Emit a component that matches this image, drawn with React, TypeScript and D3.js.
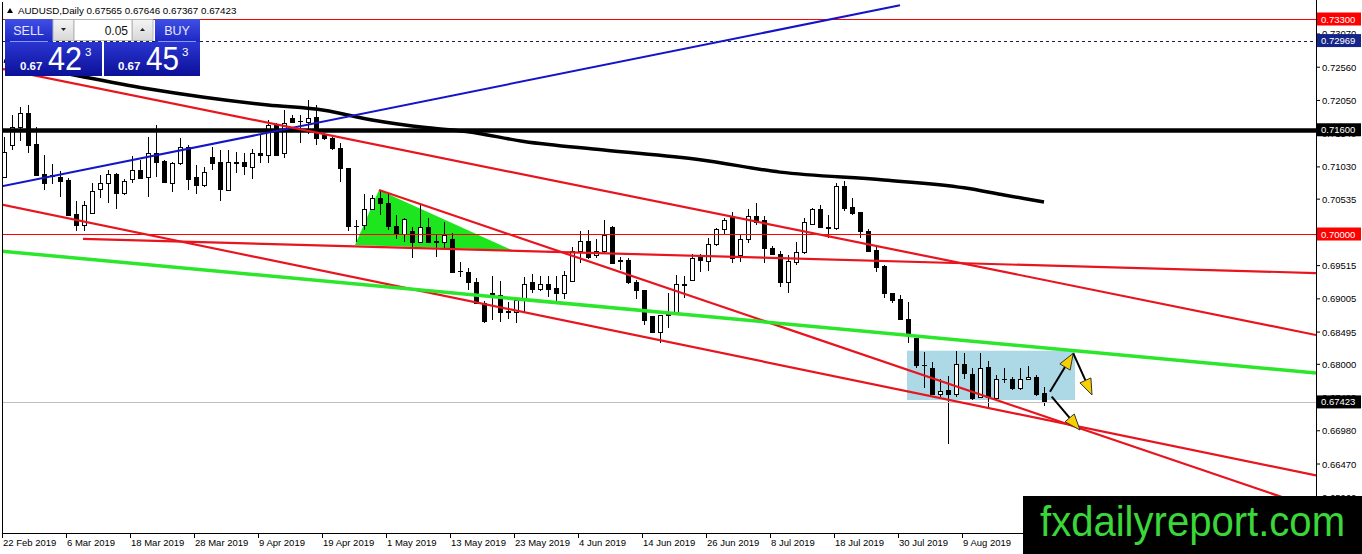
import * as d3 from 'd3'

const W = 1362
const H = 554
const LEFT = 2
const RIGHT = 1316
const TOP = 2
const BOTTOM = 533
const FONT = '"Liberation Sans", Arial, sans-serif'

// AUDUSD daily candles, 22 Feb 2019 .. 23 Aug 2019
const opens = [
  0.7088, 0.7137, 0.7165, 0.7185, 0.7138, 0.7092, 0.709, 0.7088, 0.7083, 0.703,
  0.7014, 0.7033, 0.7069, 0.7079, 0.7092, 0.7063, 0.7084, 0.7099, 0.7087, 0.7125,
  0.7112, 0.7079, 0.7109, 0.7134, 0.7087, 0.7075, 0.7118, 0.711, 0.7068, 0.7109,
  0.711, 0.7103, 0.7125, 0.7122, 0.7167, 0.7124, 0.7178, 0.7173, 0.7172, 0.718,
  0.7152, 0.7147, 0.7132, 0.7101, 0.7013, 0.7014, 0.7039, 0.7055, 0.7047, 0.7013,
  0.7, 0.7004, 0.6988, 0.701, 0.6989, 0.6988, 0.6992, 0.6943, 0.6942, 0.6926,
  0.6894, 0.691, 0.6906, 0.6882, 0.6881, 0.6899, 0.6926, 0.6916, 0.6923, 0.6917,
  0.691, 0.6928, 0.6974, 0.6989, 0.6968, 0.6974, 0.701, 0.696, 0.696, 0.6927,
  0.6914, 0.6874, 0.685, 0.6875, 0.6878, 0.6922, 0.6929, 0.6964, 0.6958, 0.6984,
  0.7008, 0.7028, 0.6968, 0.6993, 0.7027, 0.7021, 0.6979, 0.697, 0.6926, 0.6957,
  0.6972, 0.7015, 0.7038, 0.7011, 0.7009, 0.7074, 0.7041, 0.7034, 0.7005, 0.6975,
  0.6951, 0.691, 0.69, 0.687, 0.684, 0.6799, 0.6794, 0.6755, 0.676, 0.6755,
  0.68, 0.6785, 0.675, 0.6796, 0.6748, 0.6777, 0.6777, 0.6763, 0.6777, 0.678,
  0.67565,
]
const highs = [
  0.7149, 0.7183, 0.7195, 0.7198, 0.7165, 0.7121, 0.7107, 0.7096, 0.7086, 0.705,
  0.705, 0.7078, 0.7091, 0.7098, 0.7093, 0.7085, 0.7119, 0.7114, 0.7149, 0.7167,
  0.7114, 0.7111, 0.7147, 0.7137, 0.7106, 0.7103, 0.7134, 0.7129, 0.7129, 0.7126,
  0.7124, 0.7131, 0.7152, 0.7175, 0.717, 0.719, 0.7183, 0.7183, 0.7206, 0.7198,
  0.7155, 0.7149, 0.7139, 0.7101, 0.7021, 0.7061, 0.706, 0.7068, 0.7061, 0.7029,
  0.7024, 0.7011, 0.7046, 0.7025, 0.6998, 0.7018, 0.7001, 0.6957, 0.6948, 0.6933,
  0.6897, 0.6936, 0.6928, 0.6896, 0.6899, 0.6934, 0.6938, 0.6936, 0.6936, 0.6936,
  0.6943, 0.698, 0.7005, 0.7006, 0.6993, 0.7021, 0.7012, 0.6965, 0.6963, 0.6929,
  0.6914, 0.6874, 0.6876, 0.6909, 0.6937, 0.6936, 0.6969, 0.697, 0.6994, 0.7009,
  0.7024, 0.7034, 0.6998, 0.7039, 0.7047, 0.7027, 0.6982, 0.6974, 0.6968, 0.6988,
  0.7025, 0.704, 0.7045, 0.7029, 0.7078, 0.7081, 0.7056, 0.7034, 0.7008, 0.6983,
  0.6952, 0.691, 0.6907, 0.6895, 0.684, 0.6819, 0.6804, 0.6778, 0.6782, 0.6821,
  0.6817, 0.6795, 0.6817, 0.6805, 0.6783, 0.6795, 0.678, 0.6795, 0.6797, 0.6783,
  0.67646,
]
const lows = [
  0.7087, 0.7129, 0.7142, 0.7124, 0.7089, 0.7067, 0.7076, 0.7057, 0.7029, 0.7004,
  0.7004, 0.7032, 0.7055, 0.7047, 0.7039, 0.706, 0.7078, 0.7085, 0.7057, 0.7088,
  0.7078, 0.7065, 0.7106, 0.7068, 0.7062, 0.7072, 0.7098, 0.7051, 0.7068, 0.7093,
  0.7091, 0.7085, 0.7109, 0.7109, 0.7121, 0.7116, 0.717, 0.7139, 0.7153, 0.7137,
  0.7144, 0.7129, 0.708, 0.7005, 0.6988, 0.7006, 0.7037, 0.7029, 0.7006, 0.6993,
  0.6988, 0.6963, 0.6986, 0.6986, 0.6964, 0.6978, 0.694, 0.6934, 0.6914, 0.6892,
  0.6863, 0.6868, 0.6865, 0.687, 0.6864, 0.6881, 0.691, 0.6913, 0.6904, 0.6896,
  0.6901, 0.6927, 0.6955, 0.6961, 0.6963, 0.697, 0.6954, 0.6945, 0.6923, 0.6901,
  0.686, 0.6849, 0.6833, 0.6855, 0.6878, 0.6902, 0.6929, 0.6942, 0.6943, 0.6982,
  0.6998, 0.6955, 0.6957, 0.6986, 0.7014, 0.6956, 0.6968, 0.6919, 0.691, 0.6953,
  0.697, 0.7014, 0.7009, 0.6994, 0.7006, 0.7035, 0.7029, 0.6994, 0.6972, 0.6941,
  0.6902, 0.6894, 0.6868, 0.6832, 0.6794, 0.6763, 0.6753, 0.675, 0.6677, 0.675,
  0.6777, 0.6745, 0.6748, 0.6735, 0.6745, 0.6771, 0.676, 0.6761, 0.6776, 0.6751,
  0.67367,
]
const closes = [
  0.7126, 0.7165, 0.7185, 0.7137, 0.7091, 0.7079, 0.7089, 0.7082, 0.7029, 0.7014,
  0.7044, 0.7066, 0.7079, 0.7092, 0.7063, 0.7082, 0.7099, 0.7086, 0.7125, 0.7111,
  0.708, 0.7109, 0.7134, 0.7085, 0.7075, 0.7095, 0.7109, 0.7069, 0.711, 0.711,
  0.7105, 0.7125, 0.7121, 0.7167, 0.7122, 0.717, 0.7172, 0.7173, 0.7178, 0.7148,
  0.7148, 0.7132, 0.7101, 0.7013, 0.7012, 0.7039, 0.7055, 0.7047, 0.7013, 0.7,
  0.7023, 0.6988, 0.701, 0.6988, 0.6988, 0.6999, 0.6942, 0.6943, 0.6926, 0.6894,
  0.6867, 0.6904, 0.6881, 0.688, 0.6899, 0.6924, 0.6916, 0.6923, 0.6916, 0.691,
  0.6937, 0.6974, 0.6989, 0.6965, 0.6974, 0.6998, 0.6956, 0.6959, 0.6926, 0.6914,
  0.6868, 0.685, 0.6876, 0.6877, 0.6923, 0.6924, 0.6963, 0.696, 0.6984, 0.7008,
  0.7021, 0.6963, 0.6992, 0.7027, 0.7019, 0.6979, 0.6969, 0.6926, 0.6959, 0.6972,
  0.7018, 0.7038, 0.701, 0.7009, 0.7074, 0.704, 0.7033, 0.7005, 0.6974, 0.695,
  0.691, 0.6899, 0.687, 0.6845, 0.6799, 0.6799, 0.6755, 0.6759, 0.6755, 0.68,
  0.6786, 0.6748, 0.6795, 0.675, 0.6777, 0.6777, 0.6763, 0.6777, 0.678, 0.6755,
  0.67423,
]

// time axis labels, every 8 bars
const dateBars = [0, 8, 16, 24, 32, 40, 48, 56, 64, 72, 80, 88, 96, 104, 112, 120]
const dateLabels = [
  '22 Feb 2019', '6 Mar 2019', '18 Mar 2019', '28 Mar 2019', '9 Apr 2019', '19 Apr 2019',
  '1 May 2019', '13 May 2019', '23 May 2019', '4 Jun 2019', '14 Jun 2019', '26 Jun 2019',
  '8 Jul 2019', '18 Jul 2019', '30 Jul 2019', '9 Aug 2019',
]

// price axis
const priceTicks = [
  0.7307, 0.7256, 0.7205, 0.7154, 0.7103, 0.70535, 0.70025, 0.69515, 0.69005, 0.68495,
  0.68, 0.6749, 0.6698, 0.6647, 0.6596,
]

// moving average (read at a few bars)
const maBars = [0, 5, 10, 18, 25, 33, 40, 46, 53, 58, 65, 75, 87, 97, 110, 120, 125, 130]
const maValues = [
  0.72655, 0.72533, 0.7241, 0.7223, 0.721, 0.7198, 0.719, 0.7175, 0.7163, 0.7157, 0.7142,
  0.7129, 0.7114, 0.7095, 0.7083, 0.7071, 0.706, 0.7049,
]

// horizontal levels
const levelPrices = [0.733, 0.72969, 0.716, 0.7, 0.67423]
const levelColors = ['#FF0000', '#1A1A50', '#000000', '#FF0000', '#C0C0C0']
const levelWidths = [1, 1, 4.5, 1, 1]
const levelBoxes = ['#FF0000', '#142488', '#000000', '#FF0000', '#000000']

// trend lines: [bar0, price0, bar1, price1]
const blueLine = [-0.5, 0.70726, 112, 0.7351]
const redLines = [
  [-0.5, 0.7254, 164, 0.6845],
  [46.875, 0.70675, 164, 0.65785],
  [-0.5, 0.70456, 164, 0.66295],
  [9.875, 0.69926, 164, 0.69401],
]
const greenLine = [-0.5, 0.69739, 164, 0.67866]

const triangleBars = [43.875, 46.875, 63.5]
const trianglePrices = [0.69831, 0.70675, 0.69754]

const boxBars = [112.875, 133.875]
const boxPrices = [0.68209, 0.67452]

const arrows = [
  [130.75, 0.67579, 133.66, 0.68169],
  [133.66, 0.68169, 136.0, 0.67529],
  [130.96, 0.67503, 134.5, 0.66991],
]

const x = d3.scaleLinear().domain([0, 130]).range([4, 1044])
const y = d3.scaleLinear().domain([0.65411, 0.73561]).range([BOTTOM, TOP])

const fmt = (v: number) => v.toFixed(5)

const Arrow = ({ a }: { a: number[] }) => {
  const x0 = x(a[0]), y0 = y(a[1]), x1 = x(a[2]), y1 = y(a[3])
  const dx = x1 - x0, dy = y1 - y0
  const len = Math.hypot(dx, dy)
  const ux = dx / len, uy = dy / len
  const hl = 16, hw = 6
  const bx = x1 - ux * hl, by = y1 - uy * hl
  const pts = [
    [x1, y1],
    [bx - uy * hw, by + ux * hw],
    [bx + uy * hw, by - ux * hw],
  ]
  return (
    <g>
      <line x1={x0} y1={y0} x2={bx} y2={by} stroke="#000" strokeWidth={2} />
      <polygon points={pts.map((p) => p.join(',')).join(' ')} fill="#F8CF00" stroke="#333" strokeWidth={1} />
    </g>
  )
}

const Panel = () => (
  <g fontFamily={FONT}>
    <defs>
      <linearGradient id="btn" x1="0" y1="0" x2="0" y2="1">
        <stop offset="0" stopColor="#4050E4" />
        <stop offset="1" stopColor="#1C27C4" />
      </linearGradient>
      <linearGradient id="px" x1="0" y1="0" x2="0" y2="1">
        <stop offset="0" stopColor="#2A36D2" />
        <stop offset="1" stopColor="#0C1098" />
      </linearGradient>
      <linearGradient id="gray" x1="0" y1="0" x2="0" y2="1">
        <stop offset="0" stopColor="#F4F4F4" />
        <stop offset="1" stopColor="#D8D8D8" />
      </linearGradient>
    </defs>
    <rect x={5} y={19} width={48} height={23} fill="url(#btn)" />
    <rect x={155} y={19} width={45} height={23} fill="url(#btn)" />
    <rect x={5} y={42} width={97} height={34} fill="url(#px)" />
    <rect x={104} y={42} width={96} height={34} fill="url(#px)" />
    <line x1={10} x2={48} y1={41.5} y2={41.5} stroke="#8C96F0" strokeWidth={1} />
    <line x1={158} x2={196} y1={41.5} y2={41.5} stroke="#8C96F0" strokeWidth={1} />
    <text x={28.5} y={35} fontSize={12.5} fill="#E6E8FF" textAnchor="middle">SELL</text>
    <text x={177} y={35} fontSize={12.5} fill="#E6E8FF" textAnchor="middle">BUY</text>
    <rect x={53} y={19.5} width={21} height={21} fill="url(#gray)" stroke="#B4B4B4" />
    <rect x={132} y={19.5} width={21} height={21} fill="url(#gray)" stroke="#B4B4B4" />
    <rect x={74} y={19.5} width={58} height={21} fill="#fff" stroke="#B4B4B4" />
    <polygon points="61,28 66,28 63.5,31" fill="#222" />
    <polygon points="140,31 145,31 142.5,28" fill="#222" />
    <text x={128} y={35} fontSize={12} fill="#111" textAnchor="end">0.05</text>
    <text x={20} y={70} fontSize={11.5} fontWeight="bold" fill="#fff">0.67</text>
    <text x={48} y={70} fontSize={33} fill="#fff" textLength={34} lengthAdjust="spacingAndGlyphs">42</text>
    <text x={85} y={56} fontSize={11.5} fill="#fff">3</text>
    <text x={118} y={70} fontSize={11.5} fontWeight="bold" fill="#fff">0.67</text>
    <text x={146} y={70} fontSize={33} fill="#fff" textLength={33} lengthAdjust="spacingAndGlyphs">45</text>
    <text x={182} y={56} fontSize={11.5} fill="#fff">3</text>
  </g>
)

export default function App() {
  const bars = d3.range(opens.length)
  const maLine = d3
    .line<number>()
    .x((i) => x(maBars[i]))
    .y((i) => y(maValues[i]))
    .curve(d3.curveMonotoneX)
  const seg = (l: number[]) => ({ x1: x(l[0]), y1: y(l[1]), x2: x(l[2]), y2: y(l[3]) })
  const tri = triangleBars.map((b, i) => `${x(b)},${y(trianglePrices[i])}`).join(' ')

  return (
    <svg
      width={W}
      height={H}
      style={{ position: 'absolute', left: 0, top: 0, background: '#fff' }}
      fontFamily={FONT}
    >
      <defs>
        <clipPath id="plot">
          <rect x={LEFT} y={TOP} width={RIGHT - LEFT} height={BOTTOM - TOP} />
        </clipPath>
      </defs>
      <rect width={W} height={H} fill="#fff" />

      <g clipPath="url(#plot)">
        {/* background objects */}
        <rect
          x={x(boxBars[0])}
          y={y(boxPrices[0])}
          width={x(boxBars[1]) - x(boxBars[0])}
          height={y(boxPrices[1]) - y(boxPrices[0])}
          fill="#ADD8E6"
        />
        <polygon points={tri} fill="#1EE61E" />

        {/* moving average */}
        <path d={maLine(d3.range(maBars.length)) || ''} fill="none" stroke="#000" strokeWidth={3.5} />

        {/* candles */}
        <g shapeRendering="crispEdges">
          {bars.map((i) => {
            const cx = Math.round(x(i))
            const up = closes[i] >= opens[i]
            const top = Math.round(y(Math.max(opens[i], closes[i])))
            const bot = Math.round(y(Math.min(opens[i], closes[i])))
            return (
              <g key={i}>
                <line x1={cx + 0.5} x2={cx + 0.5} y1={y(highs[i])} y2={y(lows[i])} stroke="#000" />
                {bot - top < 1 ? (
                  <line x1={cx - 2} x2={cx + 3} y1={top + 0.5} y2={top + 0.5} stroke="#000" />
                ) : (
                  <rect
                    x={cx - 1.5}
                    y={top + 0.5}
                    width={4}
                    height={bot - top}
                    fill={up ? '#fff' : '#000'}
                    stroke="#000"
                  />
                )}
              </g>
            )
          })}
        </g>

        {/* horizontal levels */}
        {levelPrices.map((p, i) => (
          <line
            key={p}
            x1={LEFT}
            x2={RIGHT}
            y1={Math.round(y(p)) + 0.5}
            y2={Math.round(y(p)) + 0.5}
            stroke={levelColors[i]}
            strokeWidth={levelWidths[i]}
            strokeDasharray={i === 1 ? '3,3' : undefined}
          />
        ))}

        {/* trend lines */}
        <line {...seg(blueLine)} stroke="#1414C8" strokeWidth={2} />
        {redLines.map((l, i) => (
          <line key={i} {...seg(l)} stroke="#E8141E" strokeWidth={2.2} />
        ))}
        <line {...seg(greenLine)} stroke="#2BE62B" strokeWidth={3.5} />

        {arrows.map((a, i) => (
          <Arrow key={i} a={a} />
        ))}
      </g>

      {/* frame */}
      <g shapeRendering="crispEdges" stroke="#000" fill="none">
        <line x1={LEFT + 0.5} x2={LEFT + 0.5} y1={TOP} y2={BOTTOM + 0.5} />
        <line x1={LEFT} x2={RIGHT + 0.5} y1={BOTTOM + 0.5} y2={BOTTOM + 0.5} />
        <line x1={RIGHT + 0.5} x2={RIGHT + 0.5} y1={0} y2={BOTTOM + 0.5} />
      </g>

      {/* price axis */}
      <g fontSize={9.5} fill="#000">
        {priceTicks.map((p) => (
          <g key={p}>
            <line x1={RIGHT} x2={RIGHT + 4} y1={y(p)} y2={y(p)} stroke="#000" />
            <text x={1322} y={y(p) + 3.5}>{fmt(p)}</text>
          </g>
        ))}
        {levelPrices.map((p, i) => (
          <g key={p}>
            <rect x={RIGHT + 1} y={y(p) - 6.5} width={44} height={13} fill={levelBoxes[i]} />
            <text x={1321} y={y(p) + 3.5} fill="#fff">{fmt(p)}</text>
          </g>
        ))}
      </g>

      {/* time axis */}
      <g fontSize={9.5} fill="#000">
        {dateBars.map((b, i) => (
          <g key={b}>
            <line x1={x(b) - 1.5} x2={x(b) - 1.5} y1={BOTTOM} y2={BOTTOM + 5} stroke="#000" />
            <text x={x(b) - 1} y={546}>{dateLabels[i]}</text>
          </g>
        ))}
      </g>

      {/* header */}
      <polygon points="7,13 13,13 10,8" fill="#000" />
      <text x={18} y={14} fontSize={9.8} fill="#000">
        {`AUDUSD,Daily  ${fmt(opens[130])} ${fmt(highs[130])} ${fmt(lows[130])} ${fmt(closes[130])}`}
      </text>

      <Panel />

      {/* watermark */}
      <rect x={1023} y={496} width={W - 1023} height={H - 496} fill="#000" />
      <text
        x={1040}
        y={536}
        fontSize={42}
        fill="#3AD63A"
        textLength={305}
        lengthAdjust="spacingAndGlyphs"
        fontFamily='"Liberation Sans", Arial, sans-serif'
      >
        fxdailyreport.com
      </text>
    </svg>
  )
}
